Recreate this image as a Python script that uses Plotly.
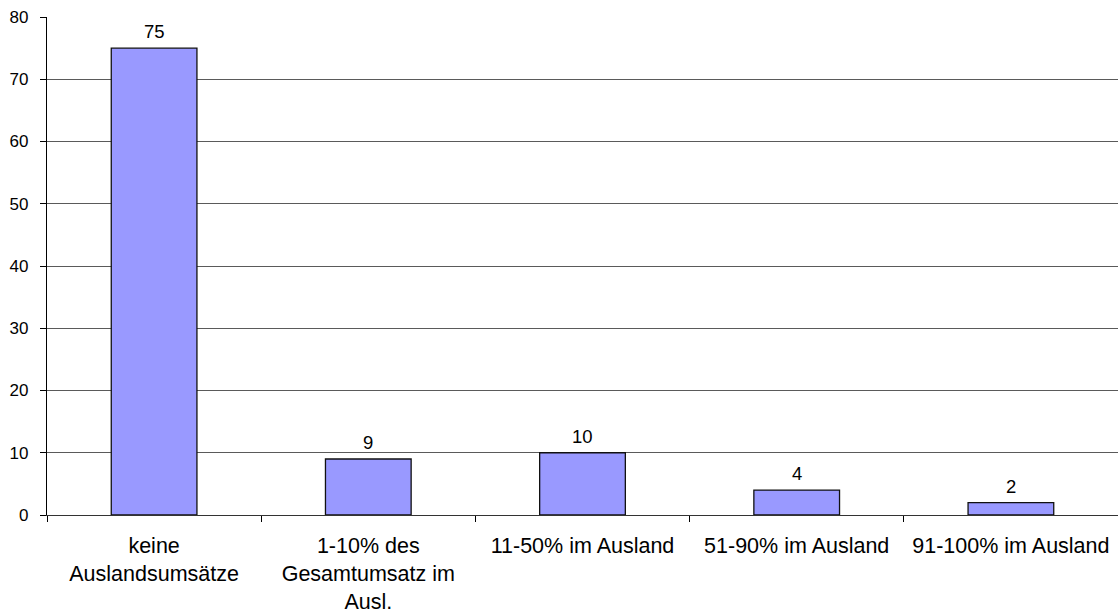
import plotly.graph_objects as go

# Share of foreign turnover (Auslandsumsatz) – counts per class
categories = [
    "keine<br>Auslandsumsätze",
    "1-10% des<br>Gesamtumsatz im<br>Ausl.",
    "11-50% im Ausland",
    "51-90% im Ausland",
    "91-100% im Ausland",
]
values = [75, 9, 10, 4, 2]
y_ticks = [0, 10, 20, 30, 40, 50, 60, 70, 80]

FONT = "Liberation Sans, Arial, sans-serif"

fig = go.Figure(
    go.Bar(
        x=categories,
        y=values,
        marker=dict(color="#9999FF", line=dict(color="#111111", width=1.3)),
        width=0.4,
    )
)

# value labels above each bar
for cat, val in zip(categories, values):
    fig.add_annotation(
        x=cat, y=val, xref="x", yref="y",
        text=str(val), showarrow=False,
        yanchor="bottom", yshift=4,
        font=dict(family=FONT, size=18.5, color="#000000"),
    )

fig.update_layout(
    width=1118, height=614,
    margin=dict(l=47, r=0, t=17, b=99),
    paper_bgcolor="white", plot_bgcolor="white",
    showlegend=False,
    font=dict(family=FONT, color="#000000"),
)

fig.update_xaxes(
    type="category",
    tickson="boundaries",
    ticks="outside", ticklen=6, tickcolor="#000000", tickwidth=1,
    showline=True, linecolor="#333333", linewidth=1.2,
    showgrid=False,
    tickfont=dict(family=FONT, size=21.5, color="#000000"),
    ticklabelstandoff=11,
)

fig.update_yaxes(
    range=[0, 80],
    tickvals=y_ticks,
    ticktext=[str(v) for v in y_ticks],
    ticks="outside", ticklen=6, tickcolor="#000000", tickwidth=1,
    showline=True, linecolor="#000000", linewidth=1.3,
    showgrid=True, gridcolor="#5a5a5a", gridwidth=1,
    zeroline=False,
    tickfont=dict(family=FONT, size=17, color="#000000"),
    ticklabelstandoff=8,
)

fig.write_html("out.html")
